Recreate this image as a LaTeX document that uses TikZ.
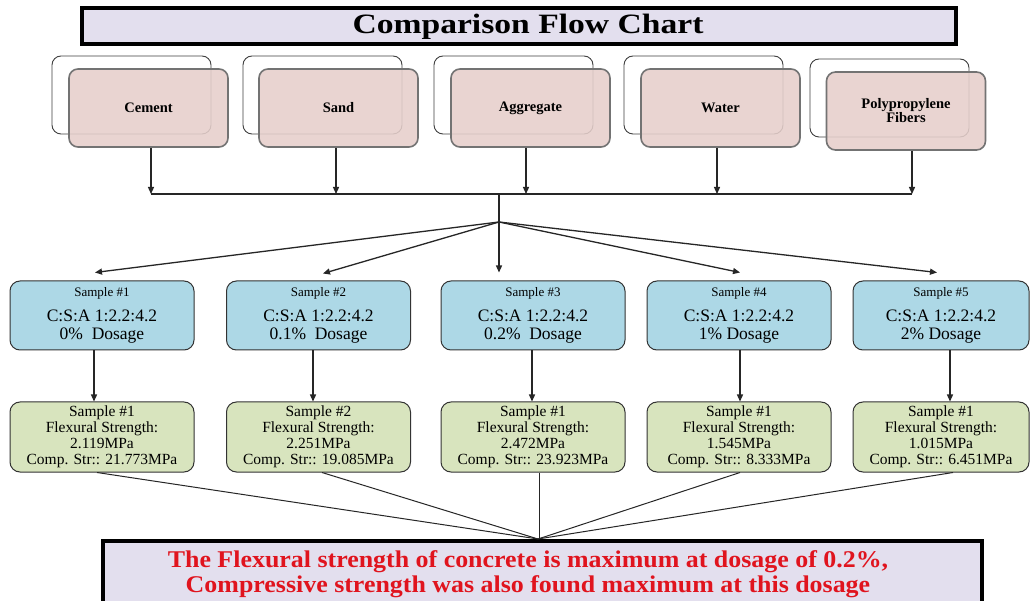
\documentclass[tikz,border=0pt]{standalone}
\usepackage{fontspec}
\setmainfont{Liberation Serif}
\usetikzlibrary{arrows.meta}
\definecolor{lav}{HTML}{E3DFEE}
\definecolor{pinkbox}{HTML}{E6CFCB}
\definecolor{bluebox}{HTML}{ADD8E6}
\definecolor{greenbox}{HTML}{D8E4BE}
\definecolor{redtxt}{HTML}{E0141E}
\definecolor{lineclr}{HTML}{262626}
\begin{document}
\begin{tikzpicture}[x=1pt,y=-1pt,
  backbox/.style={draw=black!75, line width=0.9pt, fill=white, rounded corners=9pt,
    minimum width=159pt, minimum height=78pt, inner sep=0pt},
  frontbox/.style={draw=black!55, line width=1.6pt, fill=pinkbox, fill opacity=0.88, text opacity=1,
    rounded corners=9pt, minimum width=159pt, minimum height=78pt, inner sep=0pt,
    font=\bfseries\fontsize{14.5}{14}\selectfont, align=center},
  samplebox/.style={draw=black!80, line width=1pt, fill=bluebox, rounded corners=10pt,
    minimum width=184pt, minimum height=69pt, inner sep=0pt,
    font=\fontsize{17.5}{18}\selectfont, align=center},
  resultbox/.style={draw=black!80, line width=1pt, fill=greenbox, rounded corners=10pt,
    minimum width=184pt, minimum height=70pt, inner sep=0pt,
    font=\fontsize{15.5}{16}\selectfont, align=center},
  framebox/.style={draw=black, line width=4pt, fill=lav, inner sep=0pt},
  conn/.style={draw=lineclr, line width=1.3pt},
  arr/.style={conn, -{Triangle[length=7pt,width=6pt]}},
  thin/.style={draw=lineclr, line width=1pt}
]
\useasboundingbox (0,0) rectangle (1031,601);
\clip (0,0) rectangle (1031,601);
\fill[white] (0,0) rectangle (1031,601);

% title
\node[framebox, minimum width=874pt, minimum height=36pt] (title) at (519,26) {};
\node[inner sep=0pt, font=\bfseries\fontsize{28}{30}\selectfont] (titletxt) at (528,27)
  {\scalebox{1.2}[1]{Comparison Flow Chart}};

% ingredients (back outlines then front boxes)
\node[backbox] (cementb) at (131.5,95) {};
\node[backbox] (sandb) at (322.5,95) {};
\node[backbox] (aggb) at (513.5,95) {};
\node[backbox] (waterb) at (703.5,95) {};
\node[backbox] (polyb) at (889.5,98) {};
\node[frontbox] (cement) at (148.5,108) {Cement};
\node[frontbox] (sand) at (338.5,108) {Sand};
\node[frontbox] (agg) at (530.5,108) {Aggregate};
\node[frontbox] (water) at (720.5,108) {Water};
\node[frontbox] (poly) at (906,111) {Polypropylene\\Fibers};

% bus
\coordinate (bus) at (0,194);
\coordinate (busmid) at (499,194);
\coordinate (hub) at (499,222);
\draw[conn] ([xshift=2.5pt]cement.south |- bus) -- ([xshift=6pt]poly.south |- bus);
\draw[arr] ([xshift=2.5pt]cement.south) -- ([xshift=2.5pt]cement.south |- bus);
\draw[arr] ([xshift=-2.5pt]sand.south) -- ([xshift=-2.5pt]sand.south |- bus);
\draw[arr] ([xshift=-4.5pt]agg.south) -- ([xshift=-4.5pt]agg.south |- bus);
\draw[arr] ([xshift=-3.5pt]water.south) -- ([xshift=-3.5pt]water.south |- bus);
\draw[arr] ([xshift=6pt]poly.south) -- ([xshift=6pt]poly.south |- bus);
\draw[conn] (busmid) -- (hub);

% samples
\node[samplebox] (b1) at (102,315.5) {{\fontsize{13}{18}\selectfont Sample \#1}\\[7pt]C:S:A 1:2.2:4.2\\0\%\ \ Dosage};
\node[samplebox] (b2) at (318.5,315.5) {{\fontsize{13}{18}\selectfont Sample \#2}\\[7pt]C:S:A 1:2.2:4.2\\0.1\%\ \ Dosage};
\node[samplebox] (b3) at (533,315.5) {{\fontsize{13}{18}\selectfont Sample \#3}\\[7pt]C:S:A 1:2.2:4.2\\0.2\%\ \ Dosage};
\node[samplebox] (b4) at (739,315.5) {{\fontsize{13}{18}\selectfont Sample \#4}\\[7pt]C:S:A 1:2.2:4.2\\1\% Dosage};
\node[samplebox, minimum width=176pt] (b5) at (941,315.5) {{\fontsize{13}{18}\selectfont Sample \#5}\\[7pt]C:S:A 1:2.2:4.2\\2\% Dosage};

\draw[arr] (hub) -- ([xshift=-7pt,yshift=8pt]b1.north);
\draw[arr] (hub) -- ([xshift=4.5pt,yshift=7pt]b2.north);
\draw[arr] (hub) -- ([xshift=-34pt,yshift=8pt]b3.north);
\draw[arr] (hub) -- ([xshift=1pt,yshift=8pt]b4.north);
\draw[arr] (hub) -- ([xshift=-4pt,yshift=8pt]b5.north);

% results
\node[resultbox] (g1) at (102,437) {Sample \#1\\Flexural Strength:\\2.119MPa\\Comp. Str:: 21.773MPa};
\node[resultbox] (g2) at (318.5,437) {Sample \#2\\Flexural Strength:\\2.251MPa\\Comp. Str:: 19.085MPa};
\node[resultbox] (g3) at (533,437) {Sample \#1\\Flexural Strength:\\2.472MPa\\Comp. Str:: 23.923MPa};
\node[resultbox] (g4) at (739,437) {Sample \#1\\Flexural Strength:\\1.545MPa\\Comp. Str:: 8.333MPa};
\node[resultbox, minimum width=176pt] (g5) at (941,437) {Sample \#1\\Flexural Strength:\\1.015MPa\\Comp. Str:: 6.451MPa};

\draw[arr] ([xshift=-8pt]b1.south) -- ([xshift=-8pt]g1.north);
\draw[arr] ([xshift=-5.5pt]b2.south) -- ([xshift=-5.5pt]g2.north);
\draw[arr] ([xshift=-1pt]b3.south) -- ([xshift=-1pt]g3.north);
\draw[arr] ([xshift=1pt]b4.south) -- ([xshift=1pt]g4.north);
\draw[arr] ([xshift=9pt]b5.south) -- ([xshift=9pt]g5.north);

% conclusion
\node[framebox, minimum width=879pt, minimum height=80pt] (conc) at (542.5,581) {};
\node[inner sep=0pt, align=center, text=redtxt, font=\bfseries\fontsize{24}{25}\selectfont] (conctxt) at (528,574.5)
  {\scalebox{1.08}[1]{The Flexural strength of concrete is maximum at dosage of 0.2\%,}\\
   \scalebox{1.08}[1]{Compressive strength was also found maximum at this dosage}};
\coordinate (concpt) at ([xshift=-4.5pt]conc.north);
\draw[thin] ([xshift=-5pt]g1.south) -- (concpt);
\draw[thin] ([xshift=3.5pt]g2.south) -- (concpt);
\draw[thin] ([xshift=6pt]g3.south) -- ([xshift=6pt]g3.south |- concpt);
\draw[thin] ([xshift=1pt]g4.south) -- (concpt);
\draw[thin] ([xshift=12pt]g5.south) -- (concpt);
\end{tikzpicture}
\end{document}
